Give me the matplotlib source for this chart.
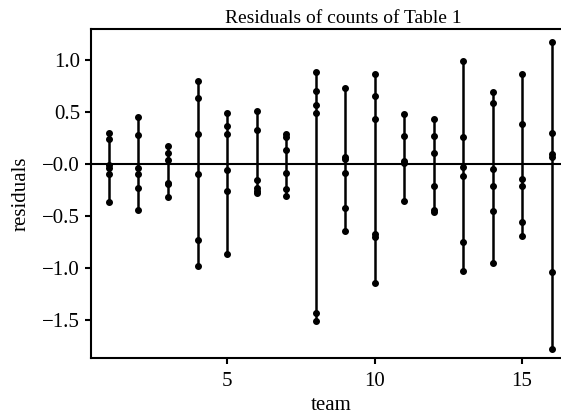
import matplotlib
matplotlib.use('Agg')
import matplotlib.pyplot as plt

plt.rcParams['font.family'] = ['Liberation Serif', 'DejaVu Serif']
plt.rcParams['axes.unicode_minus'] = True

# residuals per team
teams = list(range(1, 17))
residuals = [
    [0.30, 0.24, -0.01, -0.04, -0.10, -0.36],
    [0.45, 0.28, -0.04, -0.10, -0.23, -0.44],
    [0.175, 0.11, 0.04, -0.18, -0.195, -0.32],
    [0.80, 0.63, 0.285, -0.10, -0.73, -0.98],
    [0.486, 0.36, 0.29, -0.06, -0.26, -0.86],
    [0.51, 0.33, -0.15, -0.23, -0.256, -0.275],
    [0.285, 0.26, 0.13, -0.09, -0.24, -0.31],
    [0.885, 0.70, 0.565, 0.49, -1.43, -1.51],
    [0.725, 0.07, 0.045, -0.09, -0.42, -0.64],
    [0.86, 0.65, 0.43, -0.67, -0.70, -1.14],
    [0.476, 0.27, 0.03, 0.007, -0.355],
    [0.43, 0.27, 0.11, -0.21, -0.44, -0.46],
    [0.99, 0.26, -0.026, -0.12, -0.75, -1.03],
    [0.69, 0.58, -0.05, -0.21, -0.45, -0.95],
    [0.86, 0.38, -0.14, -0.21, -0.56, -0.69],
    [1.17, 0.30, 0.10, 0.07, -1.04, -1.77],
]

fig = plt.figure(figsize=(5.61, 4.16), dpi=100)
ax = fig.add_axes([91/561, 1 - 358/416, (571 - 91)/561, (358 - 29)/416])

for t, r in zip(teams, residuals):
    ax.vlines(t, min(r), max(r), color='black', lw=1.8)
    ax.plot([t] * len(r), r, 'o', color='black', ms=4)

ax.axhline(0, color='black', lw=1.5)

ax.set_xlim(0.39, 16.66)
ax.set_ylim(-1.86, 1.294)
ax.set_xticks([5, 10, 15])
ax.set_yticks([1.0, 0.5, 0.0, -0.5, -1.0, -1.5])
ax.set_yticklabels(['1.0', '0.5', '\u22120.0', '\u22120.5', '\u22121.0', '\u22121.5'])
ax.tick_params(labelsize=15, width=1.5, length=4, color='black', pad=4)
ax.tick_params(axis='x', pad=6)
for s in ax.spines.values():
    s.set_linewidth(1.5)

ax.set_xlabel('team', fontsize=15, labelpad=4)
ax.set_ylabel('residuals', fontsize=15, labelpad=8)
ax.set_title('Residuals of counts of Table 1', fontsize=14, x=0.525, pad=4)

fig.savefig('out.png', dpi=100)
